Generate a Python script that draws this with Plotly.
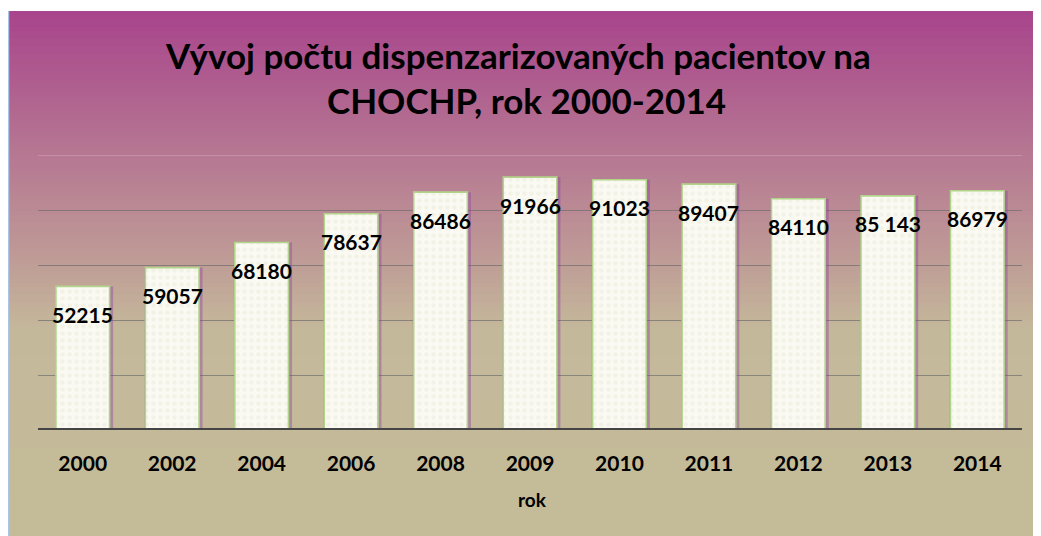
import plotly.graph_objects as go

years = ["2000", "2002", "2004", "2006", "2008", "2009", "2010", "2011", "2012", "2013", "2014"]
patients = [52215, 59057, 68180, 78637, 86486, 91966, 91023, 89407, 84110, 85143, 86979]
value_labels = ["52215", "59057", "68180", "78637", "86486", "91966", "91023", "89407", "84110", "85 143", "86979"]

title_line1 = "Vývoj počtu dispenzarizovaných pacientov na"
title_line2 = "CHOCHP, rok 2000-2014"
caption = "Graf 1: Vývoj počtu dispenzarizovaných pacientov na CHOCHP, rok 2000 – 2014"
x_title = "rok"

W, H = 1041, 536
OFF = 8  # page offset of the figure (body margin)
# plot area in page pixels
PL, PR, PT, PB = 38, 1022, 155, 430


def px_x(px):
    return (px - PL) / (PR - PL)


def px_y(py):
    return (PB - py) / (PB - PT)


fig = go.Figure()

# purple glow behind bars (mostly to the right)
fig.add_trace(go.Bar(
    x=years, y=patients, width=0.65, offset=-0.31,
    marker=dict(color="rgba(140,60,160,0.40)", line=dict(width=0)),
    hoverinfo="skip", showlegend=False,
))
# main bars
fig.add_trace(go.Bar(
    x=years, y=patients, width=0.6, offset=-0.3,
    marker=dict(
        color="#fafaf3",
        line=dict(color="#b2d38a", width=1.6),
        pattern=dict(shape=".", fgcolor="#e9e9dc", bgcolor="#fafaf3", size=7, solidity=0.35),
    ),
    showlegend=False,
))

shapes = []
stops = [(11, (168, 68, 140)), (150, (181, 118, 146)), (250, (190, 152, 150)),
         (330, (196, 184, 154)), (560, (196, 189, 153))]


def color_at(py):
    for (y0, c0), (y1, c1) in zip(stops[:-1], stops[1:]):
        if y0 <= py <= y1:
            t = (py - y0) / (y1 - y0)
            return tuple(round(a + (b - a) * t) for a, b in zip(c0, c1))
    return stops[-1][1]


step = 4
py = 11
while py < H + 12:
    c = color_at(py + step / 2)
    shapes.append(dict(type="rect", xref="paper", yref="paper",
                       x0=px_x(8), x1=px_x(W + 12), y0=px_y(py + step + 0.5), y1=px_y(py),
                       fillcolor="rgb(%d,%d,%d)" % c, line=dict(width=0), layer="below"))
    py += step

shapes.append(dict(type="line", xref="paper", yref="paper",
                   x0=px_x(8.5), x1=px_x(8.5), y0=px_y(11), y1=px_y(H + 12),
                   line=dict(color="#a9c4e6", width=1.5), layer="below"))
shapes.append(dict(type="line", xref="paper", yref="y", x0=0, x1=1, y0=100000, y1=100000,
                   line=dict(color="rgba(215,175,195,0.9)", width=1.2), layer="below"))
shapes.append(dict(type="line", xref="paper", yref="y", x0=0, x1=1, y0=0, y1=0,
                   line=dict(color="#454545", width=4), layer="above"))

annotations = []
for i, (v, lab) in enumerate(zip(patients, value_labels)):
    annotations.append(dict(x=i, y=v, xref="x", yref="y", text="<b>%s</b>" % lab,
                            showarrow=False, yshift=-28, yanchor="middle",
                            font=dict(family="Lato", size=21, color="#000000")))

annotations.append(dict(x=px_x(518), y=px_y(55), xref="paper", yref="paper",
                        text="<b>%s</b>" % title_line1, showarrow=False,
                        xanchor="center", yanchor="middle",
                        font=dict(family="Lato", size=35, color="#000000")))
annotations.append(dict(x=px_x(526), y=px_y(100), xref="paper", yref="paper",
                        text="<b>%s</b>" % title_line2, showarrow=False,
                        xanchor="center", yanchor="middle",
                        font=dict(family="Lato", size=35, color="#000000")))
annotations.append(dict(x=px_x(532), y=px_y(500), xref="paper", yref="paper",
                        text="<b>%s</b>" % x_title, showarrow=False,
                        xanchor="center", yanchor="middle",
                        font=dict(family="Lato", size=19, color="#000000")))
annotations.append(dict(x=px_x(18), y=px_y(-5), xref="paper", yref="paper",
                        text="<b>%s</b>" % caption, showarrow=False,
                        xanchor="left", yanchor="middle",
                        font=dict(family="Liberation Serif", size=22, color="#000000")))

fig.update_layout(
    width=W, height=H,
    margin=dict(l=PL - OFF, r=W - (PR - OFF), t=PT - OFF, b=H - (PB - OFF), pad=0),
    paper_bgcolor="#ffffff",
    plot_bgcolor="rgba(0,0,0,0)",
    barmode="overlay",
    shapes=shapes,
    annotations=annotations,
    showlegend=False,
    xaxis=dict(
        type="category", range=[-0.5, len(years) - 0.5],
        showgrid=False, showline=False, zeroline=False,
        ticks="", ticklabelstandoff=19,
        tickfont=dict(family="Lato", size=21, color="#000000", weight="bold"),
    ),
    yaxis=dict(
        range=[0, 100000], dtick=20000, showgrid=True,
        gridcolor="rgba(105,105,105,0.65)", gridwidth=1,
        showticklabels=False, zeroline=False, showline=False, ticks="",
    ),
)

fig.write_html("out.html")
